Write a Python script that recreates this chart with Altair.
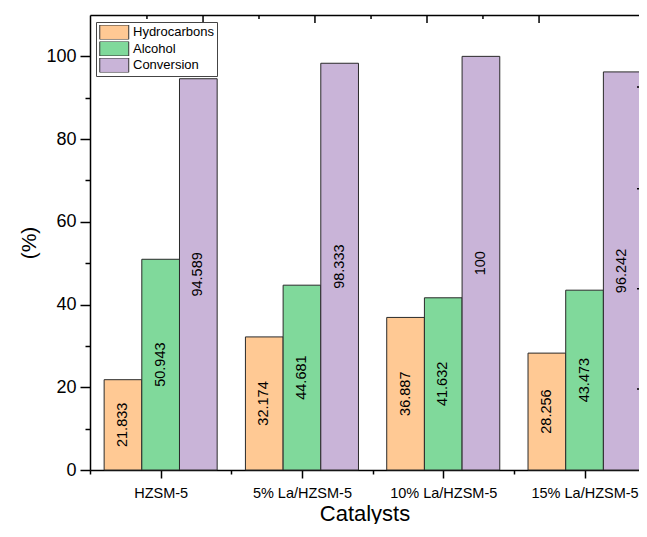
import json
import altair as alt
import pandas as pd

categories = ["HZSM-5", "5% La/HZSM-5", "10% La/HZSM-5", "15% La/HZSM-5"]
series = ["Hydrocarbons", "Alcohol", "Conversion"]
hydrocarbons = [21.833, 32.174, 36.887, 28.256]
alcohol = [50.943, 44.681, 41.632, 43.473]
conversion = [94.589, 98.333, 100, 96.242]
colors = ["#FFC994", "#80D99B", "#C9B4D8"]

y_ticks = list(range(0, 101, 10))
x_ticks = [0.5, 1, 1.5, 2, 2.5, 3, 3.5, 4]
top_major = [1.30, 2.092, 2.885, 3.678]
top_minor = [0.903, 1.696, 2.489, 3.281]
right_ticks = [19.6, 43.8, 68.0, 92.6]

W, H = 549, 455
PX_PER_UNIT = 141.3
FONT = "Liberation Sans"

group_width = 0.8
rows = []
for ci, cat in enumerate(categories):
    for si, (s, vals) in enumerate(zip(series, [hydrocarbons, alcohol, conversion])):
        x0 = ci + 1 - group_width / 2 + si * group_width / 3
        v = vals[ci]
        rows.append(dict(cat=cat, series=s, value=v, x0=x0, x1=x0 + group_width / 3,
                         xc=x0 + group_width / 6, ymid=v / 2, label=f"{v:g}"))
df = pd.DataFrame(rows)

x_scale = alt.Scale(domain=[0.5, 0.5 + W / PX_PER_UNIT], nice=False, zero=False)
y_scale = alt.Scale(domain=[0, 110], nice=False)

label_expr = f"datum.value % 1 === 0 ? {json.dumps(categories)}[datum.value - 1] : ''"

x_axis = alt.Axis(
    values=x_ticks, labelExpr=label_expr,
    tickSize={"condition": {"test": "datum.value % 1 === 0", "value": 8}, "value": 4},
    labelFontSize=14.5, labelPadding=8, labelColor="black", labelFont=FONT,
    labelOverlap=False, labelFlush=False,
    domainColor="black", domainWidth=1.5, tickColor="black", tickWidth=1.5,
    grid=False, title="Catalysts", titleFontSize=22, titleFont=FONT,
    titleFontWeight="normal", titleColor="black", titleY=50, titleBaseline="alphabetic",
)
y_axis = alt.Axis(
    values=y_ticks, labelExpr="datum.value % 20 === 0 ? datum.label : ''",
    tickSize={"condition": {"test": "datum.value % 20 === 0", "value": 10}, "value": 5},
    labelFontSize=18, labelPadding=4, labelColor="black", labelFont=FONT,
    domainColor="black", domainWidth=1.5, tickColor="black", tickWidth=1.5,
    grid=False, title="(%)", titleFontSize=21, titleFont=FONT, titleFontWeight="normal",
    titleColor="black", titleAngle=270, titleX=-55, titleY=H / 2,
    titleBaseline="alphabetic", titleAlign="center",
)

legend = alt.Legend(
    orient="none", legendX=6, legendY=7, title=None,
    symbolType="M-1,-1H3V1H-1Z", symbolSize=210, symbolStrokeColor="#333",
    symbolStrokeWidth=1, symbolOpacity=1, labelFontSize=13, labelFont=FONT,
    labelColor="black", labelOffset=18, padding=3, rowPadding=1.5, clipHeight=14.5,
    strokeColor="#444", fillColor="white",
)

bars = alt.Chart(df).mark_bar(stroke="#2a2a2a", strokeWidth=1, opacity=1).encode(
    x=alt.X("x0:Q", scale=x_scale, axis=x_axis),
    x2="x1:Q",
    y=alt.Y("value:Q", scale=y_scale, axis=y_axis),
    y2=alt.datum(0),
    color=alt.Color("series:N", scale=alt.Scale(domain=series, range=colors), legend=legend),
)

texts = alt.Chart(df).mark_text(angle=270, fontSize=14.5, font=FONT, color="black",
                                align="center", baseline="middle").encode(
    x=alt.X("xc:Q", scale=x_scale, axis=None),
    y=alt.Y("ymid:Q", scale=y_scale, axis=None),
    text="label:N",
)

top_major_layer = alt.Chart(pd.DataFrame({"t": top_major})).mark_rule(
    color="black", strokeWidth=1.5).encode(
    x=alt.X("t:Q", scale=x_scale, axis=alt.Axis(orient="top", labels=False, ticks=False,
                                                 domain=True, domainColor="black",
                                                 domainWidth=1.5, title=None, grid=False)),
    y=alt.value(0), y2=alt.value(8),
)
top_minor_layer = alt.Chart(pd.DataFrame({"t": top_minor})).mark_rule(
    color="black", strokeWidth=1.5).encode(
    x=alt.X("t:Q", scale=x_scale, axis=None),
    y=alt.value(0), y2=alt.value(4),
)
right_layer = alt.Chart(pd.DataFrame({"r": right_ticks})).mark_rule(
    color="black", strokeWidth=1.5).encode(
    y=alt.Y("r:Q", scale=y_scale, axis=None),
    x=alt.value(W - 2), x2=alt.value(W),
)

chart = alt.layer(bars, texts, top_major_layer, top_minor_layer, right_layer).resolve_axis(
    x="independent", y="independent"
).properties(
    width=W, height=H,
    autosize=alt.AutoSizeParams(type="none"),
    padding={"left": 82, "top": 7, "right": 0, "bottom": 54},
).configure_view(stroke=None).configure(font=FONT)

chart.save("out.html", embed_options={"renderer": "svg", "actions": False})
